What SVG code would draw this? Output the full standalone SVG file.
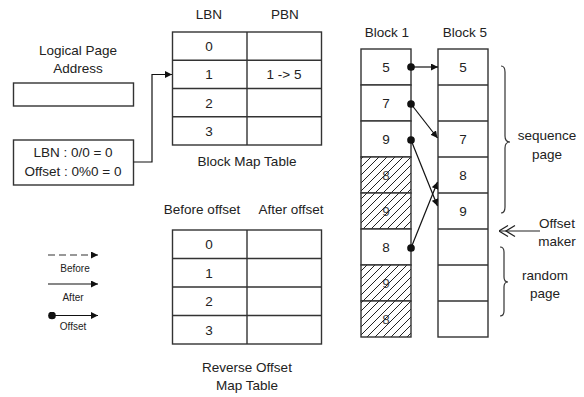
<svg xmlns="http://www.w3.org/2000/svg" width="584" height="397" viewBox="0 0 584 397">
  <style>
    text { font-family: "Liberation Sans", Arial, sans-serif; font-size: 13.5px; fill: #222; text-anchor: middle; }
    .small { font-size: 10px; }
    .box { fill: #fff; stroke: #333; stroke-width: 1.4; }
    .grid { fill: none; stroke: #333; stroke-width: 1.4; }
    .hatch { fill: url(#hatch); stroke: #333; stroke-width: 1.4; }
    .stale { opacity: 0.85; }
    .link { fill: none; stroke: #111; stroke-width: 1.2; }
    .brace { fill: none; stroke: #333; stroke-width: 1.2; }
  </style>
  <defs>
    <pattern id="hatch" patternUnits="userSpaceOnUse" width="8" height="8">
      <rect width="8" height="8" fill="#fff"/>
      <path d="M-2,2 L2,-2 M0,8 L8,0 M6,10 L10,6" stroke="#222" stroke-width="1"/>
    </pattern>
    <marker id="arrow" viewBox="0 0 10 10" refX="10" refY="5" markerWidth="7" markerHeight="7" markerUnits="userSpaceOnUse" orient="auto">
      <path d="M0,0 L10,5 L0,10 Z" fill="#111"/>
    </marker>
    <marker id="dot" viewBox="0 0 10 10" refX="5" refY="5" markerWidth="8" markerHeight="8" markerUnits="userSpaceOnUse">
      <circle cx="5" cy="5" r="4.8" fill="#111"/>
    </marker>
    <marker id="chevron" viewBox="0 0 20 12" refX="20" refY="6" markerWidth="20" markerHeight="12" markerUnits="userSpaceOnUse" orient="auto">
      <path d="M11,0.5 L20,6 L11,11.5 M4,0.5 L13,6 L4,11.5" fill="none" stroke="#222" stroke-width="1.2"/>
    </marker>
  </defs>

  <!-- Logical page address -->
  <g id="logical-page-address">
    <text x="78" y="55">Logical Page</text>
    <text x="78" y="73">Address</text>
    <rect class="box" x="13.5" y="83" width="120" height="23"/>
  </g>

  <g id="lbn-calc">
    <rect class="box" x="13.5" y="140" width="120" height="45"/>
    <text x="73" y="156.5">LBN : 0/0 = 0</text>
    <text x="73" y="175.5">Offset : 0%0 = 0</text>
  </g>

  <!-- Block map table -->
  <g id="block-map-table">
    <text x="209" y="19">LBN</text>
    <text x="285" y="19">PBN</text>
    <rect class="grid" x="172.5" y="32" width="149" height="113"/>
    <path class="grid" d="M247,32 V145 M172.5,60.25 H321.5 M172.5,88.5 H321.5 M172.5,116.75 H321.5"/>
    <text x="209" y="51">0</text>
    <text x="209" y="79">1</text>
    <text x="284" y="79">1 -&gt; 5</text>
    <text x="209" y="107.5">2</text>
    <text x="209" y="135.5">3</text>
    <text x="247" y="166">Block Map Table</text>
  </g>

  <!-- Reverse offset map table -->
  <g id="reverse-offset-map-table">
    <text x="202" y="214">Before offset</text>
    <text x="291" y="214">After offset</text>
    <rect class="grid" x="172.5" y="230" width="149" height="114"/>
    <path class="grid" d="M247,230 V344 M172.5,258.5 H321.5 M172.5,287 H321.5 M172.5,315.5 H321.5"/>
    <text x="209" y="249">0</text>
    <text x="209" y="277.5">1</text>
    <text x="209" y="306">2</text>
    <text x="209" y="334.5">3</text>
    <text x="247" y="371.5">Reverse Offset</text>
    <text x="247" y="390">Map Table</text>
  </g>

  <!-- Legend -->
  <g id="legend">
    <line x1="48" y1="255" x2="98" y2="255" stroke="#777" stroke-width="1.4" stroke-dasharray="7,4" marker-end="url(#arrow)"/>
    <text class="small" x="75" y="271.5">Before</text>
    <line x1="48" y1="284" x2="98" y2="284" stroke="#111" stroke-width="1.2" marker-end="url(#arrow)"/>
    <text class="small" x="73" y="300.5">After</text>
    <line x1="52" y1="315.5" x2="98" y2="315.5" stroke="#111" stroke-width="1.2" marker-start="url(#dot)" marker-end="url(#arrow)"/>
    <text class="small" x="73" y="330">Offset</text>
  </g>

  <!-- Block 1: hatched pages are invalidated copies -->
  <g id="block-1">
    <text x="387" y="37">Block 1</text>
    <rect class="box" x="361" y="49" width="50" height="36"/>
    <rect class="box" x="361" y="85" width="50" height="36"/>
    <rect class="box" x="361" y="121" width="50" height="36"/>
    <rect class="hatch" x="361" y="157" width="50" height="36"/>
    <rect class="hatch" x="361" y="193" width="50" height="36"/>
    <rect class="box" x="361" y="229" width="50" height="36"/>
    <rect class="hatch" x="361" y="265" width="50" height="36"/>
    <rect class="hatch" x="361" y="301" width="50" height="36"/>
    <text x="386" y="72">5</text>
    <text x="386" y="108">7</text>
    <text x="386" y="144">9</text>
    <text class="stale" x="386" y="180">8</text>
    <text class="stale" x="386" y="216">9</text>
    <text x="386" y="252">8</text>
    <text class="stale" x="386" y="288">9</text>
    <text class="stale" x="386" y="324">8</text>
  </g>

  <!-- Block 5 -->
  <g id="block-5">
    <text x="465" y="37">Block 5</text>
    <rect class="grid" x="438" y="49" width="50" height="288"/>
    <path class="grid" d="M438,85 H488 M438,121 H488 M438,157 H488 M438,193 H488 M438,229 H488 M438,265 H488 M438,301 H488"/>
    <text x="463" y="72">5</text>
    <text x="463" y="144">7</text>
    <text x="463" y="180">8</text>
    <text x="463" y="216">9</text>
  </g>

  <!-- Annotations -->
  <g id="sequence-page">
    <path class="brace" d="M501,66 Q505,66 505,72 V136 Q505,142 510,142 Q505,142 505,148 V207 Q505,213 501,213"/>
    <text x="547" y="140">sequence</text>
    <text x="547" y="159">page</text>
  </g>

  <g id="offset-maker">
    <line x1="540" y1="231" x2="499" y2="231" stroke="#222" stroke-width="1.2" marker-end="url(#chevron)"/>
    <text x="557" y="227.5">Offset</text>
    <text x="557" y="246">maker</text>
  </g>

  <g id="random-page">
    <path class="brace" d="M500,247 Q504,247 504,252 V277 Q504,282 508,282 Q504,282 504,287 V311 Q504,316 500,316"/>
    <text x="545" y="279.5">random</text>
    <text x="545" y="298">page</text>
  </g>

  <!-- Connectors -->
  <g id="connectors">
    <polyline class="link" points="133.5,162 152,162 152,74.5 172,74.5" marker-end="url(#arrow)"/>
    <line class="link" x1="411" y1="67" x2="438" y2="67" marker-start="url(#dot)" marker-end="url(#arrow)"/>
    <line class="link" x1="411" y1="104" x2="437.5" y2="138" marker-start="url(#dot)" marker-end="url(#arrow)"/>
    <line class="link" x1="411" y1="140" x2="437.5" y2="206" marker-start="url(#dot)" marker-end="url(#arrow)"/>
    <line class="link" x1="411" y1="248" x2="437.5" y2="182" marker-start="url(#dot)" marker-end="url(#arrow)"/>
  </g>
</svg>
